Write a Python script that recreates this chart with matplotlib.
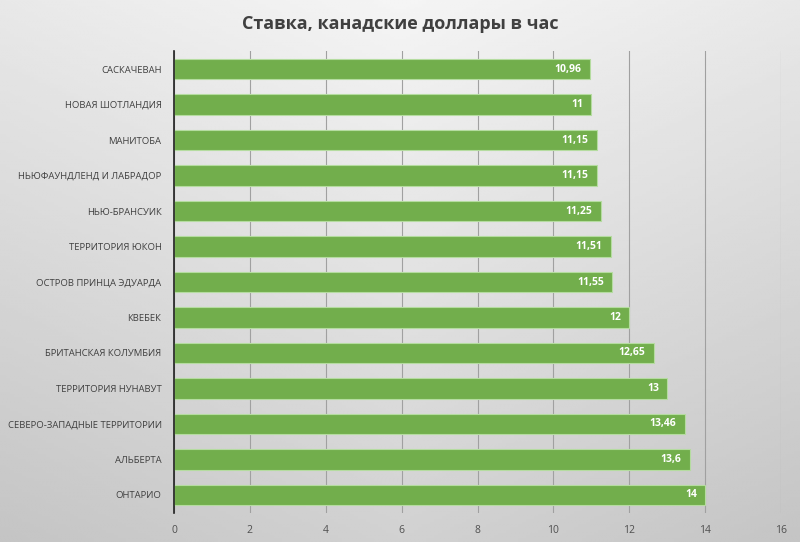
import numpy as np
import matplotlib
matplotlib.use("Agg")
import matplotlib.pyplot as plt

plt.rcParams['font.family'] = ['Open Sans', 'DejaVu Sans']

provinces = ["САСКАЧЕВАН", "НОВАЯ ШОТЛАНДИЯ", "МАНИТОБА", "НЬЮФАУНДЛЕНД И ЛАБРАДОР",
             "НЬЮ-БРАНСУИК", "ТЕРРИТОРИЯ ЮКОН", "ОСТРОВ ПРИНЦА ЭДУАРДА", "КВЕБЕК",
             "БРИТАНСКАЯ КОЛУМБИЯ", "ТЕРРИТОРИЯ НУНАВУТ", "СЕВЕРО-ЗАПАДНЫЕ ТЕРРИТОРИИ",
             "АЛЬБЕРТА", "ОНТАРИО"]
rates = [10.96, 11, 11.15, 11.15, 11.25, 11.51, 11.55, 12, 12.65, 13, 13.46, 13.6, 14]
labels = ["10,96", "11", "11,15", "11,15", "11,25", "11,51", "11,55", "12", "12,65",
          "13", "13,46", "13,6", "14"]
ticks = [0, 2, 4, 6, 8, 10, 12, 14, 16]

fig = plt.figure(figsize=(8, 5.42), dpi=100)

# gray gradient background
bg = fig.add_axes([0, 0, 1, 1], zorder=-10)
yy, xx = np.mgrid[0:1:200j, 0:1:200j]
shade = 0.96 - 0.14 * yy - 0.05 * np.abs(xx - 0.5) * 2
bg.imshow(shade, cmap="gray", vmin=0, vmax=1, aspect="auto", extent=[0, 1, 0, 1])
bg.axis("off")

ax = fig.add_axes([0.2175, 0.054, 0.7588, 0.8514])
ax.patch.set_alpha(0)
y = np.arange(len(provinces))
bars = ax.barh(y, rates, height=0.58, color="#72ae4c", edgecolor="#b5dca0", linewidth=0.8, zorder=3)
for b, t in zip(bars, labels):
    ax.text(b.get_width() - 0.22, b.get_y() + b.get_height() / 2, t, ha="right", va="center",
            color="white", fontsize=7.5, fontweight="bold", zorder=4)

ax.set_yticks(y)
ax.set_yticklabels(provinces, fontsize=6.8, color="#404040")
ax.set_ylim(len(provinces) - 0.5, -0.5)
ax.set_xlim(0, 16)
ax.set_xticks(ticks)
ax.set_xticklabels([str(t) for t in ticks], fontsize=7.5, color="#505050")
ax.tick_params(axis="both", length=0, pad=9)
ax.grid(axis="x", color="#a0a0a0", linewidth=0.8, zorder=0)
for s in ["top", "right", "bottom"]:
    ax.spines[s].set_visible(False)
ax.spines["left"].set_color("#202020")
ax.spines["left"].set_linewidth(1.2)
ax.spines["left"].set_zorder(5)

fig.text(0.5, 0.955, "Ставка, канадские доллары в час", ha="center", va="center",
         fontsize=13, fontweight="bold", color="#404040")

fig.savefig("out.png", dpi=100)
